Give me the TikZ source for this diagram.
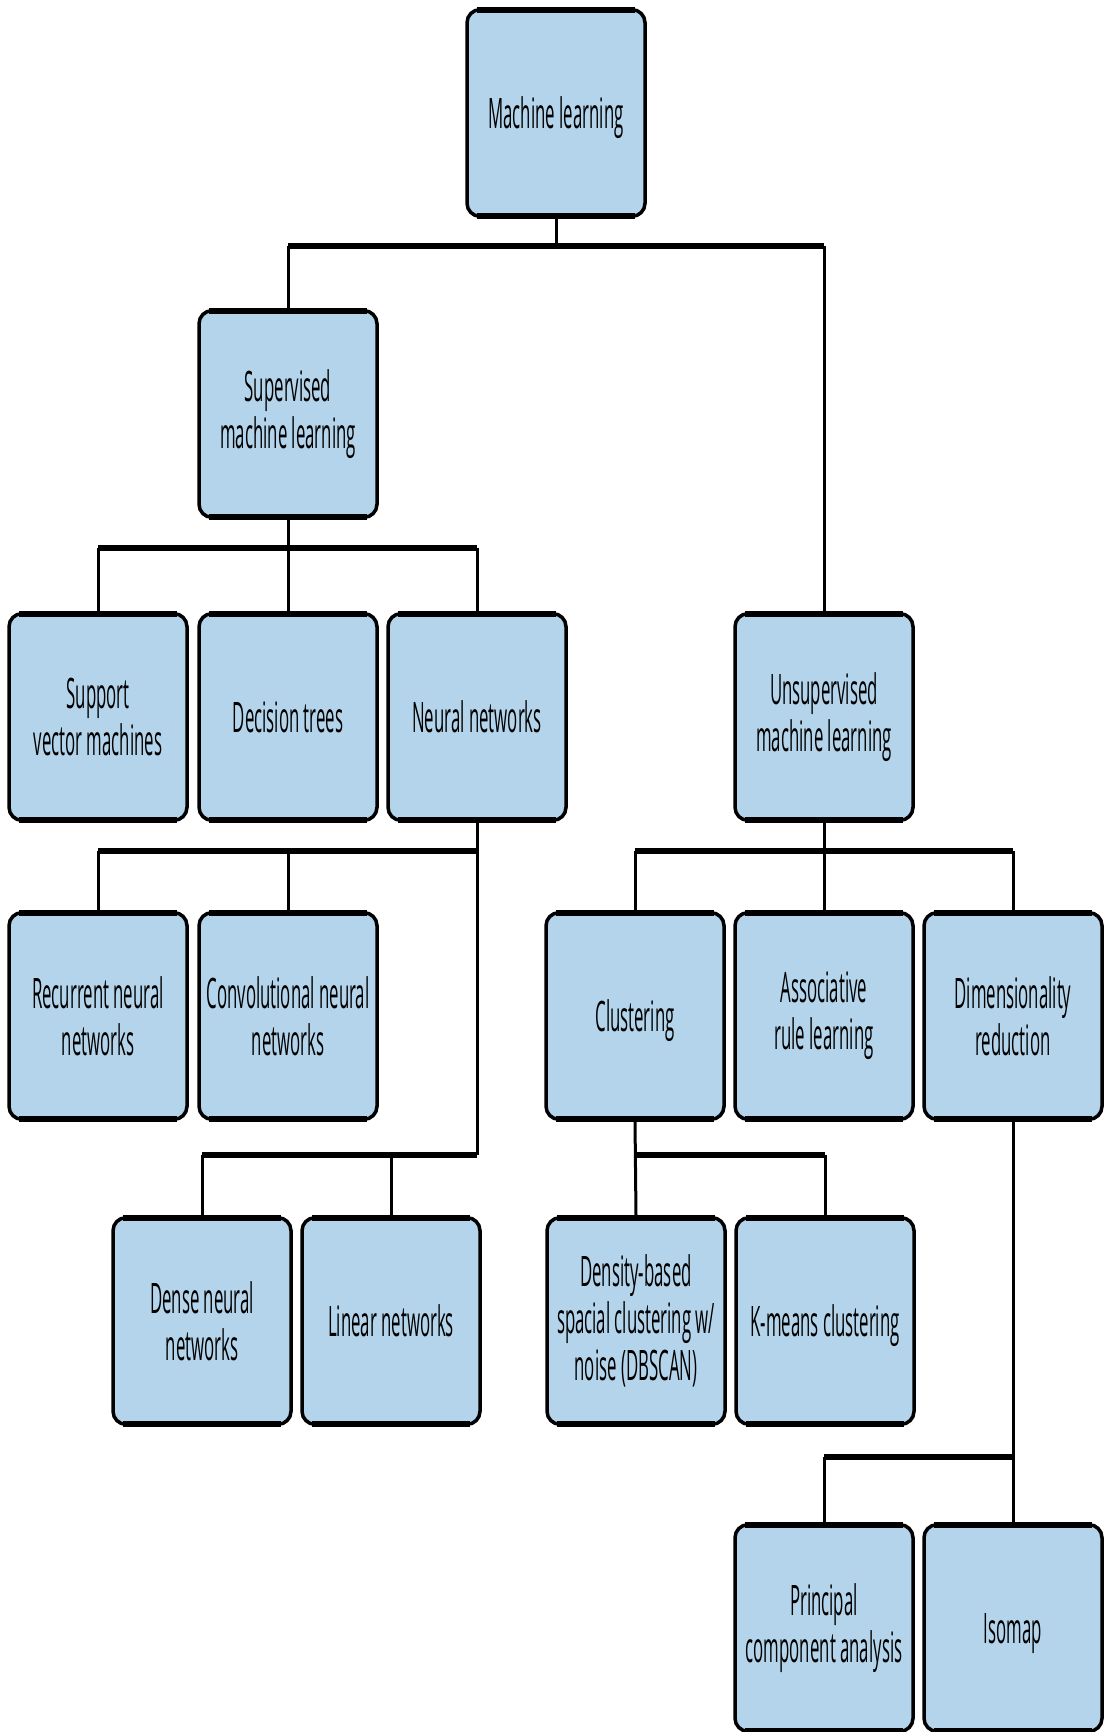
\documentclass[tikz,border=0pt]{standalone}
\usepackage{fontspec}
\setmainfont[FakeStretch=0.40]{Open Sans}
\definecolor{mlblue}{RGB}{179,212,234}

\begin{document}
\begin{tikzpicture}[x=0.3pt,y=-0.3pt,
    mlbox/.style={draw,fill=mlblue,line width=1.05pt,rounded corners=3.9pt,
      minimum width=53.4pt,minimum height=62pt,inner sep=0pt,align=center,
      font=\fontsize{12.6}{14.1}\selectfont},
    oneline/.style={text depth=0pt},
    rim/.style={line width=1.6pt},
    bar/.style={line width=1.9pt},
    stem/.style={line width=0.9pt}]
          \useasboundingbox (0,0) rectangle (1103,1732);
          % boxes
          \node[mlbox,oneline] (ml) at (556,113) {Machine learning};
          \node[mlbox] (sup) at (288,414) {Supervised\\machine learning};
          \node[mlbox] (svm) at (98,717) {Support\\vector machines};
          \node[mlbox,oneline] (dt) at (288,717) {Decision trees};
          \node[mlbox,oneline] (nn) at (477,717) {Neural networks};
          \node[mlbox] (unsup) at (824,717) {Unsupervised\\machine learning};
          \node[mlbox] (rnn) at (98,1016) {Recurrent neural\\networks};
          \node[mlbox] (cnn) at (288,1016) {Convolutional neural\\networks};
          \node[mlbox,oneline] (clu) at (635,1016) {Clustering};
          \node[mlbox] (arl) at (824,1016) {Associative\\rule learning};
          \node[mlbox] (dim) at (1013,1016) {Dimensionality\\reduction};
          \node[mlbox] (dnn) at (202,1321) {Dense neural\\networks};
          \node[mlbox,oneline] (lin) at (391,1321) {Linear networks};
          \node[mlbox] (dbs) at (636,1321) {Density-based\\spacial clustering w/\\noise (DBSCAN)};
          \node[mlbox,oneline] (km) at (825,1321) {K-means clustering};
          \node[mlbox] (pca) at (824,1628) {Principal\\component analysis};
          \node[mlbox,oneline] (iso) at (1013,1628) {Isomap};
          \foreach \n in {ml,sup,svm,dt,nn,unsup,rnn,cnn,clu,arl,dim,dnn,lin,dbs,km,pca,iso}{
            \draw[rim] ([xshift=3.5pt,yshift=-0.6pt]\n.north west) -- ([xshift=-3.5pt,yshift=-0.6pt]\n.north east);
            \draw[rim] ([xshift=3.5pt,yshift=0.6pt]\n.south west) -- ([xshift=-3.5pt,yshift=0.6pt]\n.south east);
          }
          % bar heights
          \coordinate (b1) at (0,246);
          \coordinate (b2) at (0,548);
          \coordinate (b3) at (0,851);
          \coordinate (b4) at (0,1155);
          \coordinate (b5) at (0,1457);
          % machine learning
          \draw[stem] (ml.south) -- (ml |- b1);
          \draw[bar] (sup |- b1) -- (unsup |- b1);
          \draw[stem] (sup |- b1) -- (sup.north);
          \draw[stem] (unsup |- b1) -- (unsup.north);
          % supervised
          \draw[stem] (sup.south) -- (dt.north);
          \draw[bar] (svm |- b2) -- (nn |- b2);
          \draw[stem] (svm |- b2) -- (svm.north);
          \draw[stem] (nn |- b2) -- (nn.north);
          % neural networks
          \draw[stem] (nn.south) -- (nn |- b4);
          \draw[bar] (rnn |- b3) -- (nn |- b3);
          \draw[stem] (rnn |- b3) -- (rnn.north);
          \draw[stem] (cnn |- b3) -- (cnn.north);
          \draw[bar] (dnn |- b4) -- (nn |- b4);
          \draw[stem] (dnn |- b4) -- (dnn.north);
          \draw[stem] (lin |- b4) -- (lin.north);
          % unsupervised
          \draw[stem] (unsup.south) -- (arl.north);
          \draw[bar] (clu |- b3) -- (dim |- b3);
          \draw[stem] (clu |- b3) -- (clu.north);
          \draw[stem] (dim |- b3) -- (dim.north);
          \draw[stem] (clu.south) -- (dbs.north);
          \draw[bar] (dbs |- b4) -- (km |- b4);
          \draw[stem] (km |- b4) -- (km.north);
          \draw[stem] (dim.south) -- (iso.north);
          \draw[bar] (pca |- b5) -- (iso |- b5);
          \draw[stem] (pca |- b5) -- (pca.north);
        \end{tikzpicture}
\end{document}
